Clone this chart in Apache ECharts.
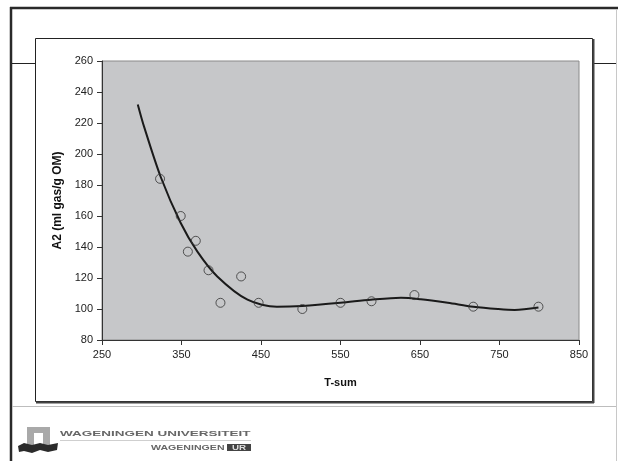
<!DOCTYPE html>
<html><head><meta charset="utf-8">
<script src="https://cdn.jsdelivr.net/npm/echarts@6/dist/echarts.min.js"></script>
<style>html,body{margin:0;padding:0;background:#fff}#c{width:618px;height:461px}</style>
</head><body><div id="c"></div>
<script>
// observed points: [T-sum, A2]
const obsX = [323, 349, 358, 368, 384, 399, 425, 447, 502, 550, 589, 643, 717, 799];
const obsY = [184, 160, 137, 144, 125, 104, 121, 104, 100, 104, 105, 109, 101.5, 101.5];
// trendline
const fitX = [295, 303, 324, 349, 370, 395, 433, 470, 502, 550, 588, 626, 651, 685, 717, 748, 769, 799];
const fitY = [232, 217.5, 185, 155.5, 137, 121, 106, 101.5, 102, 104, 106, 107.3, 106.3, 104, 101.5, 100, 99.4, 101];
const xTitle = 'T-sum';
const yTitle = 'A2 (ml gas/g OM)';

const chart = echarts.init(document.getElementById('c'), null, {renderer: 'canvas'});
const font = 'Liberation Sans, Arial, sans-serif';
chart.setOption({
  animation: false,
  backgroundColor: '#fff',
  grid: {left: 102, right: 39, top: 61, bottom: 121, show: true, backgroundColor: '#C6C7C9', borderColor: '#8a8a8a', borderWidth: 1},
  xAxis: {
    type: 'value', min: 250, max: 850, interval: 100,
    name: xTitle, nameLocation: 'middle', nameGap: 37,
    nameTextStyle: {fontFamily: font, fontSize: 11, fontWeight: 'bold', color: '#111'},
    axisLine: {show: true, lineStyle: {color: '#333', width: 1}},
    axisTick: {show: true, length: 5, lineStyle: {color: '#333'}},
    axisLabel: {fontFamily: font, fontSize: 11, color: '#222', margin: 9},
    splitLine: {show: false}
  },
  yAxis: {
    type: 'value', min: 80, max: 260, interval: 20,
    name: yTitle, nameLocation: 'middle', nameGap: 27, nameRotate: 90,
    nameTextStyle: {fontFamily: font, fontSize: 12, fontWeight: 'bold', color: '#111'},
    axisLine: {show: true, lineStyle: {color: '#333', width: 1}},
    axisTick: {show: true, length: 5, lineStyle: {color: '#333'}},
    axisLabel: {fontFamily: font, fontSize: 11, color: '#222', margin: 9},
    splitLine: {show: false}
  },
  series: [
    {type: 'line', data: fitX.map((x, i) => [x, fitY[i]]), smooth: 0.3, symbol: 'none',
     lineStyle: {color: '#1a1a1a', width: 2}, z: 2},
    {type: 'scatter', data: obsX.map((x, i) => [x, obsY[i]]), symbol: 'circle', symbolSize: 9,
     itemStyle: {color: 'rgba(0,0,0,0)', borderColor: '#333', borderWidth: 1}, z: 3}
  ],
  graphic: [
    // slide borders
    {type: 'line', shape: {x1: 10, y1: 8, x2: 618, y2: 8}, style: {stroke: '#2a2a2a', lineWidth: 2.5}},
    {type: 'line', shape: {x1: 11, y1: 7, x2: 11, y2: 461}, style: {stroke: '#2a2a2a', lineWidth: 2.5}},
    {type: 'line', shape: {x1: 616.5, y1: 9, x2: 616.5, y2: 461}, style: {stroke: '#c8c8c8', lineWidth: 1}},
    {type: 'line', shape: {x1: 12, y1: 63.5, x2: 35, y2: 63.5}, style: {stroke: '#222', lineWidth: 1}},
    {type: 'line', shape: {x1: 593, y1: 63.5, x2: 616, y2: 63.5}, style: {stroke: '#222', lineWidth: 1}},
    {type: 'line', shape: {x1: 12, y1: 406.5, x2: 616, y2: 406.5}, style: {stroke: '#bdbdbd', lineWidth: 1}},
    // chart frame
    {type: 'rect', shape: {x: 35.5, y: 38.5, width: 557, height: 363}, style: {fill: null, stroke: '#222', lineWidth: 1}},
    {type: 'line', shape: {x1: 593.5, y1: 39, x2: 593.5, y2: 403}, style: {stroke: '#444', lineWidth: 2}},
    {type: 'line', shape: {x1: 36, y1: 402.5, x2: 594, y2: 402.5}, style: {stroke: '#444', lineWidth: 2}},
    // logo
    {type: 'rect', shape: {x: 27, y: 427, width: 23, height: 18}, style: {fill: '#a9a9a9'}},
    {type: 'rect', shape: {x: 34, y: 433, width: 9, height: 12}, style: {fill: '#fff'}},
    {type: 'polygon', shape: {points: [[18, 446], [24, 443], [32, 445], [40, 443], [48, 445], [58, 443], [57, 450], [48, 452], [40, 450], [32, 453], [24, 451], [19, 452]]}, style: {fill: '#2b2b2b'}},
    {type: 'text', x: 60, y: 429.5, scaleX: 1.8, style: {text: 'WAGENINGEN UNIVERSITEIT', fontFamily: font, fontSize: 7.5, fontWeight: 'bold', fill: '#666'}},
    {type: 'line', shape: {x1: 60, y1: 440.5, x2: 251, y2: 440.5}, style: {stroke: '#cfcfcf', lineWidth: 1}},
    {type: 'text', x: 151, y: 444.5, scaleX: 1.63, style: {text: 'WAGENINGEN', fontFamily: font, fontSize: 6.5, fontWeight: 'bold', fill: '#666'}},
    {type: 'rect', shape: {x: 227, y: 444, width: 24, height: 7}, style: {fill: '#444'}},
    {type: 'text', x: 232, y: 444.5, scaleX: 1.5, style: {text: 'UR', fontFamily: font, fontSize: 6.5, fontWeight: 'bold', fill: '#ddd'}}
  ]
});
</script></body></html>
